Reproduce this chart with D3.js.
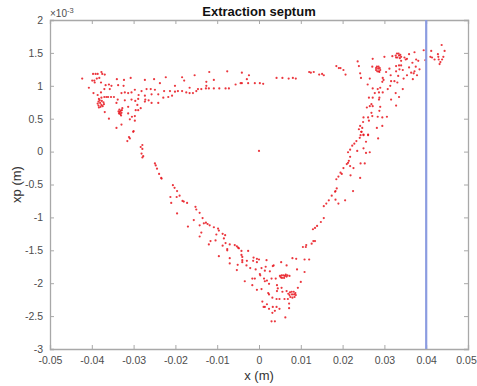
<!DOCTYPE html>
<html>
<head>
<meta charset="utf-8">
<script src="https://cdn.jsdelivr.net/npm/d3@7"></script>
<style>
  body { margin: 0; background: #fff; }
  text { font-family: "Liberation Sans", Arial, Helvetica, sans-serif; }
</style>
</head>
<body>
<div id="chart"></div>
<script>
// tick values
const xTicks = [-0.05, -0.04, -0.03, -0.02, -0.01, 0, 0.01, 0.02, 0.03, 0.04, 0.05]
const yTicks = [-3, -2.5, -2, -1.5, -1, -0.5, 0, 0.5, 1, 1.5, 2]   // xp in units of 1e-3
const septumX = 0.04

// particles [x (m), xp (1e-3)]
const topLeft = [
  [-0.0423,1.11],[-0.0407,0.97],[-0.0397,1.18],[-0.0391,1.18],[-0.0386,1.18],[-0.0377,1.21],[-0.0375,1.18],
  [-0.0369,1.17],[-0.0399,1.08],[-0.0394,1.08],[-0.0388,1.11],[-0.0382,1.12],[-0.0393,1.05],[-0.0378,1.05],
  [-0.0367,1.01],[-0.0359,1.02],[-0.0353,1.00],[-0.0357,0.95],[-0.0370,0.95],[-0.0378,0.90],[-0.0396,0.89],
  [-0.0386,0.86],[-0.0383,0.80],[-0.0377,0.82],[-0.0370,0.83],[-0.0365,0.83],[-0.0361,0.83],[-0.0354,0.83],
  [-0.0347,0.83],[-0.0369,0.60],[-0.0359,0.50],[-0.0340,1.10],[-0.0323,1.09],[-0.0307,1.12],[-0.0337,1.01],
  [-0.0324,1.00],[-0.0321,0.90],[-0.0329,0.89],[-0.0313,0.89],[-0.0305,0.90],[-0.0297,0.94],[-0.0281,0.92],
  [-0.0273,1.09],[-0.0251,1.10],[-0.0223,1.13],[-0.0237,1.04],[-0.0259,0.95],[-0.0249,0.94],[-0.0269,0.95],
  [-0.0273,0.85],[-0.0288,0.86],[-0.0289,0.80],[-0.0272,0.79],[-0.0264,0.78],[-0.0257,0.74],[-0.0273,0.76],
  [-0.0283,0.66],[-0.0295,0.63],[-0.0297,0.54],[-0.0305,0.79],[-0.0321,0.78],[-0.0338,0.79],[-0.0341,0.74],
  [-0.0313,0.68],[-0.0329,0.41],[-0.0341,0.36],[-0.0300,0.31],[-0.0297,0.47],[-0.0309,0.49],[-0.0257,0.87],
  [-0.0241,0.87],[-0.0229,0.82],[-0.0217,0.83],[-0.0208,0.85],[-0.0213,0.92],[-0.0201,0.91],[-0.0194,0.92],
  [-0.0184,0.92],[-0.0174,0.90],[-0.0166,0.89],[-0.0158,0.89],[-0.0150,0.92],[-0.0146,0.95],[-0.0138,0.95],
  [-0.0201,1.00],[-0.0184,1.13],[-0.0179,1.08],[-0.0154,1.16],[-0.0166,0.97],[-0.0241,0.74],[-0.0227,0.92],
  [-0.0296,0.77],[-0.0291,0.71],[-0.0313,0.58],[-0.0304,0.53],[-0.0289,0.63]
]
const clusterLeft = [
  [-0.0384,0.76],[-0.0381,0.78],[-0.0376,0.77],[-0.0372,0.75],[-0.0371,0.72],[-0.0374,0.69],[-0.0379,0.68],
  [-0.0384,0.70],[-0.0386,0.73],[-0.0380,0.74],[-0.0377,0.71],[-0.0383,0.67],
  [-0.0334,0.64],[-0.0331,0.62],[-0.0328,0.63],[-0.0333,0.60],[-0.0329,0.59],[-0.0332,0.57],[-0.0335,0.58],
  [-0.0330,0.55],[-0.0327,0.66],[-0.0336,0.61]
]
const topMiddle = [
  [-0.0119,1.21],[-0.0126,1.06],[-0.0126,1.00],[-0.0127,0.96],[-0.0120,0.96],[-0.0108,1.09],[-0.0108,0.96],
  [-0.0095,0.96],[-0.0080,0.96],[-0.0072,0.96],[-0.0076,1.22],[-0.0056,1.02],[-0.0044,1.04],[-0.0041,1.04],
  [-0.0041,1.20],[-0.0029,1.10],[-0.0024,1.16],[-0.0026,1.04],[-0.0010,1.04],[0.0002,1.04],[0.0010,1.03],
  [0.0042,1.12],[0.0056,1.12],[0.0071,1.11],[0.0081,1.12],[0.0088,1.11],[0.0120,1.21],[0.0124,1.20],
  [0.0131,1.21],[0.0144,1.17],[0.0151,1.18],[0.0155,1.16],[0.0000,0.01]
]
const topRight = [
  [0.0185,1.30],[0.0191,1.27],[0.0195,1.27],[0.0202,1.24],[0.0207,1.17],[0.0236,1.37],[0.0239,1.30],
  [0.0242,1.19],[0.0244,1.12],[0.0265,1.11],[0.0260,1.02],[0.0272,1.41],[0.0271,1.29],[0.0296,1.12],
  [0.0298,1.09],[0.0295,1.06],[0.0300,1.44],[0.0304,1.21],[0.0312,1.26],[0.0315,1.16],[0.0316,1.07],
  [0.0319,1.45],[0.0340,1.38],[0.0328,1.30],[0.0335,1.31],[0.0340,1.31],[0.0328,1.22],[0.0336,1.25],
  [0.0344,1.24],[0.0351,1.40],[0.0348,1.43],[0.0354,1.41],[0.0359,1.48],[0.0367,1.35],[0.0372,1.51],
  [0.0376,1.40],[0.0381,1.38],[0.0375,1.29],[0.0372,1.22],[0.0370,1.19],[0.0378,1.16],[0.0384,1.25],
  [0.0359,1.28],[0.0364,1.20],[0.0354,1.16],[0.0346,1.11],[0.0368,1.10],[0.0333,1.15],[0.0324,1.07],
  [0.0331,1.05],[0.0314,1.00],[0.0308,0.95],[0.0290,0.97],[0.0284,0.95],[0.0272,0.96],[0.0287,0.90],
  [0.0277,0.89],[0.0296,0.90],[0.0288,0.82],[0.0272,0.82],[0.0263,0.82],[0.0287,0.79],[0.0316,0.79],
  [0.0327,0.89],[0.0335,0.83],[0.0344,0.95],[0.0328,0.70],[0.0269,0.72],[0.0265,0.69],[0.0258,0.67],
  [0.0272,0.69],[0.0269,0.59],[0.0290,0.68],[0.0288,0.62],[0.0271,0.54],[0.0250,0.52],[0.0261,0.52],
  [0.0284,0.53],[0.0306,0.53],[0.0295,0.52],[0.0249,0.45],[0.0263,0.47],[0.0242,0.39],[0.0247,0.36],
  [0.0239,0.34],[0.0282,0.36],[0.0295,0.39],[0.0245,0.30],[0.0250,0.26],[0.0261,0.26],
  [0.0394,1.54],[0.0412,1.53],[0.0428,1.48],[0.0429,1.44],[0.0420,1.40],[0.0410,1.44],[0.0414,1.43],
  [0.0430,1.40],[0.0438,1.40],[0.0441,1.44],[0.0444,1.53],[0.0434,1.36],[0.0432,1.33],[0.0398,1.39],
  [0.0437,1.62]
]
const clusterRight = [
  [0.0280,1.27],[0.0282,1.29],[0.0286,1.29],[0.0289,1.27],[0.0290,1.24],[0.0287,1.22],[0.0283,1.22],
  [0.0280,1.24],[0.0285,1.26],[0.0288,1.21],
  [0.0327,1.46],[0.0330,1.49],[0.0334,1.49],[0.0338,1.47],[0.0340,1.44],[0.0337,1.42],[0.0331,1.43],
  [0.0328,1.43],[0.0335,1.46]
]
const leftSide = [
  [-0.0301,0.30],[-0.0311,0.22],[-0.0309,0.20],[-0.0315,0.16],[-0.0279,0.10],[-0.0283,0.07],[-0.0279,0.04],
  [-0.0281,-0.03],[-0.0277,-0.07],[-0.0279,-0.09],[-0.0249,-0.18],[-0.0247,-0.21],[-0.0244,-0.26],
  [-0.0239,-0.34],[-0.0234,-0.40],[-0.0233,-0.41],[-0.0206,-0.51],[-0.0202,-0.55],[-0.0196,-0.60],
  [-0.0212,-0.69],[-0.0197,-0.69],[-0.0190,-0.67],[-0.0183,-0.75],[-0.0180,-0.76],[-0.0172,-0.78],
  [-0.0210,-0.78],[-0.0196,-0.94],[-0.0152,-0.84],[-0.0150,-0.88],[-0.0142,-0.93],[-0.0135,-1.01],
  [-0.0156,-1.04],[-0.0132,-1.09],[-0.0127,-1.08],[-0.0123,-1.10],[-0.0118,-1.12],[-0.0142,-1.12],
  [-0.0170,-1.14],[-0.0108,-1.15],[-0.0098,-1.17],[-0.0096,-1.20],[-0.0138,-1.23],[-0.0142,-1.29],
  [-0.0102,-1.26],[-0.0087,-1.25],[-0.0081,-1.27],[-0.0084,-1.32],[-0.0116,-1.36],[-0.0120,-1.41],
  [-0.0104,-1.35],[-0.0080,-1.39],[-0.0087,-1.43],[-0.0076,-1.48],[-0.0070,-1.41],[-0.0058,-1.42],
  [-0.0053,-1.44],[-0.0050,-1.46]
]
const rightSide = [
  [0.0245,0.30],[0.0243,0.25],[0.0250,0.25],[0.0261,0.25],[0.0241,0.21],[0.0285,0.20],[0.0233,0.16],
  [0.0256,0.15],[0.0228,0.12],[0.0223,0.09],[0.0218,0.03],[0.0250,0.05],[0.0235,0.01],[0.0213,-0.01],
  [0.0256,-0.02],[0.0265,-0.01],[0.0218,-0.08],[0.0215,-0.14],[0.0213,-0.17],[0.0243,-0.18],[0.0253,-0.18],
  [0.0210,-0.19],[0.0218,-0.22],[0.0226,-0.25],[0.0202,-0.25],[0.0195,-0.32],[0.0198,-0.34],[0.0190,-0.38],
  [0.0219,-0.36],[0.0242,-0.40],[0.0185,-0.42],[0.0186,-0.56],[0.0183,-0.60],[0.0182,-0.61],[0.0225,-0.60],
  [0.0174,-0.67],[0.0183,-0.73],[0.0167,-0.74],[0.0206,-0.74],[0.0190,-0.79],[0.0161,-0.79],[0.0155,-0.83],
  [0.0155,-1.01],[0.0148,-1.07],[0.0139,-1.13],[0.0129,-1.18],[0.0134,-1.16],[0.0134,-1.36],[0.0130,-1.36],
  [0.0126,-1.40],[0.0113,-1.42],[0.0105,-1.45],[0.0112,-1.45]
]
const bottomTip = [
  [-0.0048,-1.47],[-0.0076,-1.50],[-0.0096,-1.59],[-0.0070,-1.62],[-0.0070,-1.70],[-0.0042,-1.51],
  [-0.0026,-1.51],[-0.0042,-1.57],[-0.0040,-1.60],[-0.0040,-1.65],[-0.0040,-1.68],[-0.0029,-1.66],
  [-0.0051,-1.72],[-0.0053,-1.80],[-0.0030,-1.73],[-0.0021,-1.77],[-0.0014,-1.66],[-0.0013,-1.61],
  [-0.0005,-1.63],[0.0000,-1.64],[-0.0005,-1.68],[0.0018,-1.65],[-0.0008,-1.79],[0.0006,-1.77],
  [0.0016,-1.75],[0.0014,-1.81],[0.0026,-1.82],[0.0033,-1.74],[0.0002,-1.86],[0.0003,-1.88],
  [-0.0010,-1.93],[-0.0016,-1.93],[-0.0034,-1.97],[0.0012,-1.93],[0.0014,-1.97],[0.0019,-1.96],
  [0.0024,-2.01],[0.0030,-1.93],[0.0040,-1.93],[0.0035,-1.73],[0.0053,-1.68],[0.0066,-1.73],
  [0.0080,-1.62],[0.0089,-1.63],[0.0091,-1.79],[0.0109,-1.64],[0.0120,-1.64],[0.0109,-1.83],
  [0.0073,-1.89],[0.0043,-2.03],[0.0045,-2.08],[0.0054,-2.07],[0.0043,-2.12],[0.0056,-2.13],
  [0.0066,-2.12],[0.0100,-1.98],[0.0093,-2.07],[-0.0016,-2.03],[-0.0005,-2.10],[0.0006,-2.09],
  [0.0022,-2.15],[0.0024,-2.17],[0.0032,-2.22],[0.0042,-2.24],[0.0049,-2.24],[0.0061,-2.24],
  [0.0069,-2.24],[0.0072,-2.31],[0.0072,-2.38],[0.0063,-2.52],[0.0008,-2.28],[0.0019,-2.32],
  [0.0011,-2.36],[0.0014,-2.36],[0.0024,-2.39],[0.0033,-2.36],[0.0042,-2.36],[0.0049,-2.39],
  [0.0032,-2.45],[0.0038,-2.42],[0.0030,-2.58],[0.0038,-2.58]
]
const clusterBottom = [
  [0.0050,-1.89],[0.0054,-1.88],[0.0058,-1.88],[0.0062,-1.89],[0.0066,-1.90],[0.0060,-1.92],[0.0055,-1.92],
  [0.0064,-1.87],[0.0068,-1.88],[0.0052,-1.91],
  [0.0074,-2.14],[0.0078,-2.13],[0.0083,-2.13],[0.0087,-2.15],[0.0088,-2.18],[0.0085,-2.21],[0.0080,-2.22],
  [0.0075,-2.21],[0.0073,-2.18],[0.0079,-2.17],[0.0084,-2.17],[0.0070,-2.16]
]

const particles = [].concat(topLeft, clusterLeft, topMiddle, topRight, clusterRight,
  leftSide, rightSide, bottomTip, clusterBottom)

// svg + layout
const width = 477, height = 386
const margin = {top: 20, right: 9, bottom: 37, left: 50}
const innerW = width - margin.left - margin.right
const innerH = height - margin.top - margin.bottom

const svg = d3.select('#chart').append('svg')
  .attr('width', width)
  .attr('height', height)

const g = svg.append('g')
  .attr('transform', `translate(${margin.left}, ${margin.top})`)

const x = d3.scaleLinear().domain([-0.05, 0.05]).range([0, innerW])
const y = d3.scaleLinear().domain([-3, 2]).range([innerH, 0])

const axisColor = '#a8a8a8'
const labelColor = '#4d4d4d'

// axes (ticks point inward, like matlab)
const fmt = d => d === 0 ? '0' : String(d)
const xAxisGroup = g.append('g')
  .attr('transform', `translate(0, ${innerH})`)
  .call(d3.axisBottom(x).tickValues(xTicks).tickFormat(fmt).tickSize(-4).tickPadding(8))
g.append('g')
  .call(d3.axisLeft(y).tickValues(yTicks).tickFormat(fmt).tickSize(-4).tickPadding(7))
g.append('g')
  .call(d3.axisTop(x).tickValues(xTicks).tickFormat('').tickSize(-4))
g.append('g')
  .attr('transform', `translate(${innerW}, 0)`)
  .call(d3.axisRight(y).tickValues(yTicks).tickFormat('').tickSize(-4))

g.selectAll('.domain').attr('stroke', axisColor).attr('stroke-width', 1.3)
g.selectAll('.tick line').attr('stroke', axisColor)
g.selectAll('.tick text')
  .attr('fill', labelColor)
  .attr('font-size', '10.5px')

// last label sits right at the window edge, nudge it in a bit
xAxisGroup.selectAll('.tick text').filter(d => d === 0.05).attr('dx', -2)

// particles
g.append('g').selectAll('circle')
  .data(particles)
  .enter()
  .append('circle')
  .attr('cx', d => x(d[0]))
  .attr('cy', d => y(d[1]))
  .attr('r', 1.1)
  .attr('fill', '#e8141c')
  .attr('opacity', 0.85)

// septum position
g.append('line')
  .attr('x1', x(septumX)).attr('x2', x(septumX))
  .attr('y1', y(2)).attr('y2', y(-3))
  .attr('stroke', '#8b9ce0')
  .attr('stroke-width', 2.2)

// texts
svg.append('text')
  .attr('x', margin.left + innerW / 2)
  .attr('y', 16)
  .attr('text-anchor', 'middle')
  .attr('font-size', '13px')
  .attr('font-weight', 'bold')
  .attr('fill', '#111')
  .text('Extraction septum')

svg.append('text')
  .attr('x', margin.left + innerW / 2)
  .attr('y', 380)
  .attr('text-anchor', 'middle')
  .attr('font-size', '13px')
  .attr('fill', '#333')
  .text('x (m)')

svg.append('text')
  .attr('transform', `translate(21, ${margin.top + innerH / 2}) rotate(-90)`)
  .attr('text-anchor', 'middle')
  .attr('font-size', '13px')
  .attr('fill', '#333')
  .text('xp (m)')

const expo = svg.append('text')
  .attr('x', margin.left)
  .attr('y', 17)
  .attr('font-size', '10px')
  .attr('fill', labelColor)
expo.append('tspan').text('\u00d710')
expo.append('tspan').attr('dy', -4).attr('font-size', '7.5px').text('-3')
</script>
</body>
</html>
